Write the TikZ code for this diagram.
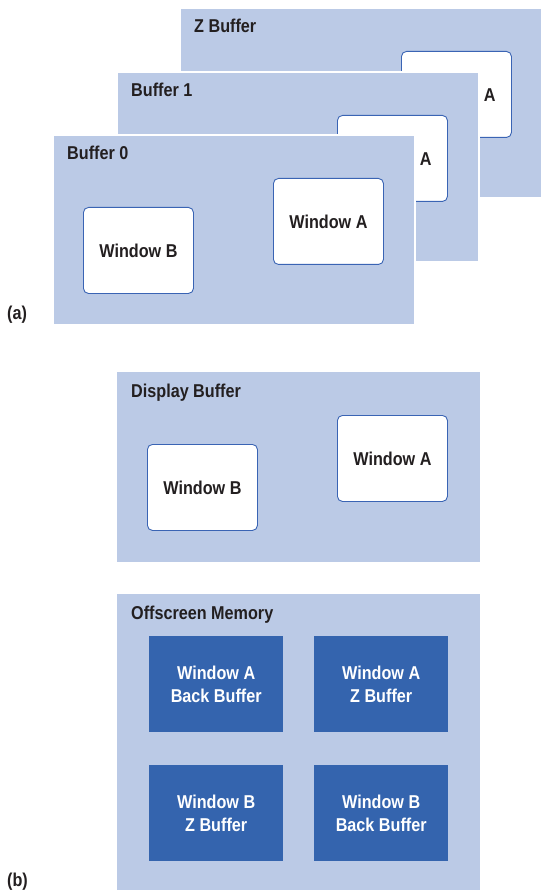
\documentclass[tikz,border=0pt]{standalone}
\usepackage{fontspec}
\setmainfont{Liberation Sans}[FakeStretch=0.87]
\definecolor{bufblue}{RGB}{187,202,230}
\definecolor{winedge}{RGB}{58,100,180}
\definecolor{memblue}{RGB}{52,100,174}
\definecolor{ink}{RGB}{35,31,32}
\newcommand\txtfont{\fontsize{18.6}{23}\selectfont\bfseries}
\tikzset{
 buffer/.style={rectangle, fill=bufblue, draw=white, line width=1.2pt, minimum width=362pt, minimum height=190pt, anchor=north west, inner sep=0pt, outer sep=0pt},
 win/.style={rectangle, rounded corners=5pt, fill=white, draw=winedge, line width=0.9pt, minimum width=110pt, minimum height=86pt, anchor=north west, font=\txtfont, text=ink, inner sep=0pt},
 lbl/.style={anchor=base west, font=\txtfont, text=ink, inner sep=0pt},
 mem/.style={rectangle, fill=memblue, minimum width=134pt, minimum height=96pt, anchor=north west, inner sep=0pt, font=\txtfont, text=white, align=center},
}
\begin{document}
\begin{tikzpicture}[x=1pt,y=-1pt]
\useasboundingbox (0,0) rectangle (540,890);
% (a) stacked buffers
\node[buffer] (zbuf) at (180,8) {};
\node[win] (zwin) at (401,51) {Window A};
\node[lbl] (zlbl) at (194,33) {Z Buffer};
\node[buffer] (buf1) at (117,72) {};
\node[win] (b1win) at (337,115) {Window A};
\node[lbl] (b1lbl) at (131,97) {Buffer 1};
\node[buffer] (buf0) at (53,135) {};
\node[win] (b0wina) at (273,178) {Window A};
\node[win] (b0winb) at (83,207) {Window B};
\node[lbl] (b0lbl) at (67,160) {Buffer 0};
\node[lbl] (alab) at (7,319) {(a)};
% (b) display buffer and offscreen memory
\node[buffer, draw=none, minimum width=363pt] (disp) at (117,372) {};
\node[win] (dwina) at (337,415) {Window A};
\node[win] (dwinb) at (147,444) {Window B};
\node[lbl] (displbl) at (131,397) {Display Buffer};
\node[buffer, draw=none, minimum width=363pt, minimum height=300pt] (off) at (117,594) {};
\node[lbl] (offlbl) at (131,619) {Offscreen Memory};
\node[mem] (m1) at (149,636) {Window A\\Back Buffer};
\node[mem] (m2) at (314,636) {Window A\\Z Buffer};
\node[mem] (m3) at (149,765) {Window B\\Z Buffer};
\node[mem] (m4) at (314,765) {Window B\\Back Buffer};
\node[lbl] (blab) at (7,886) {(b)};
\end{tikzpicture}
\end{document}
